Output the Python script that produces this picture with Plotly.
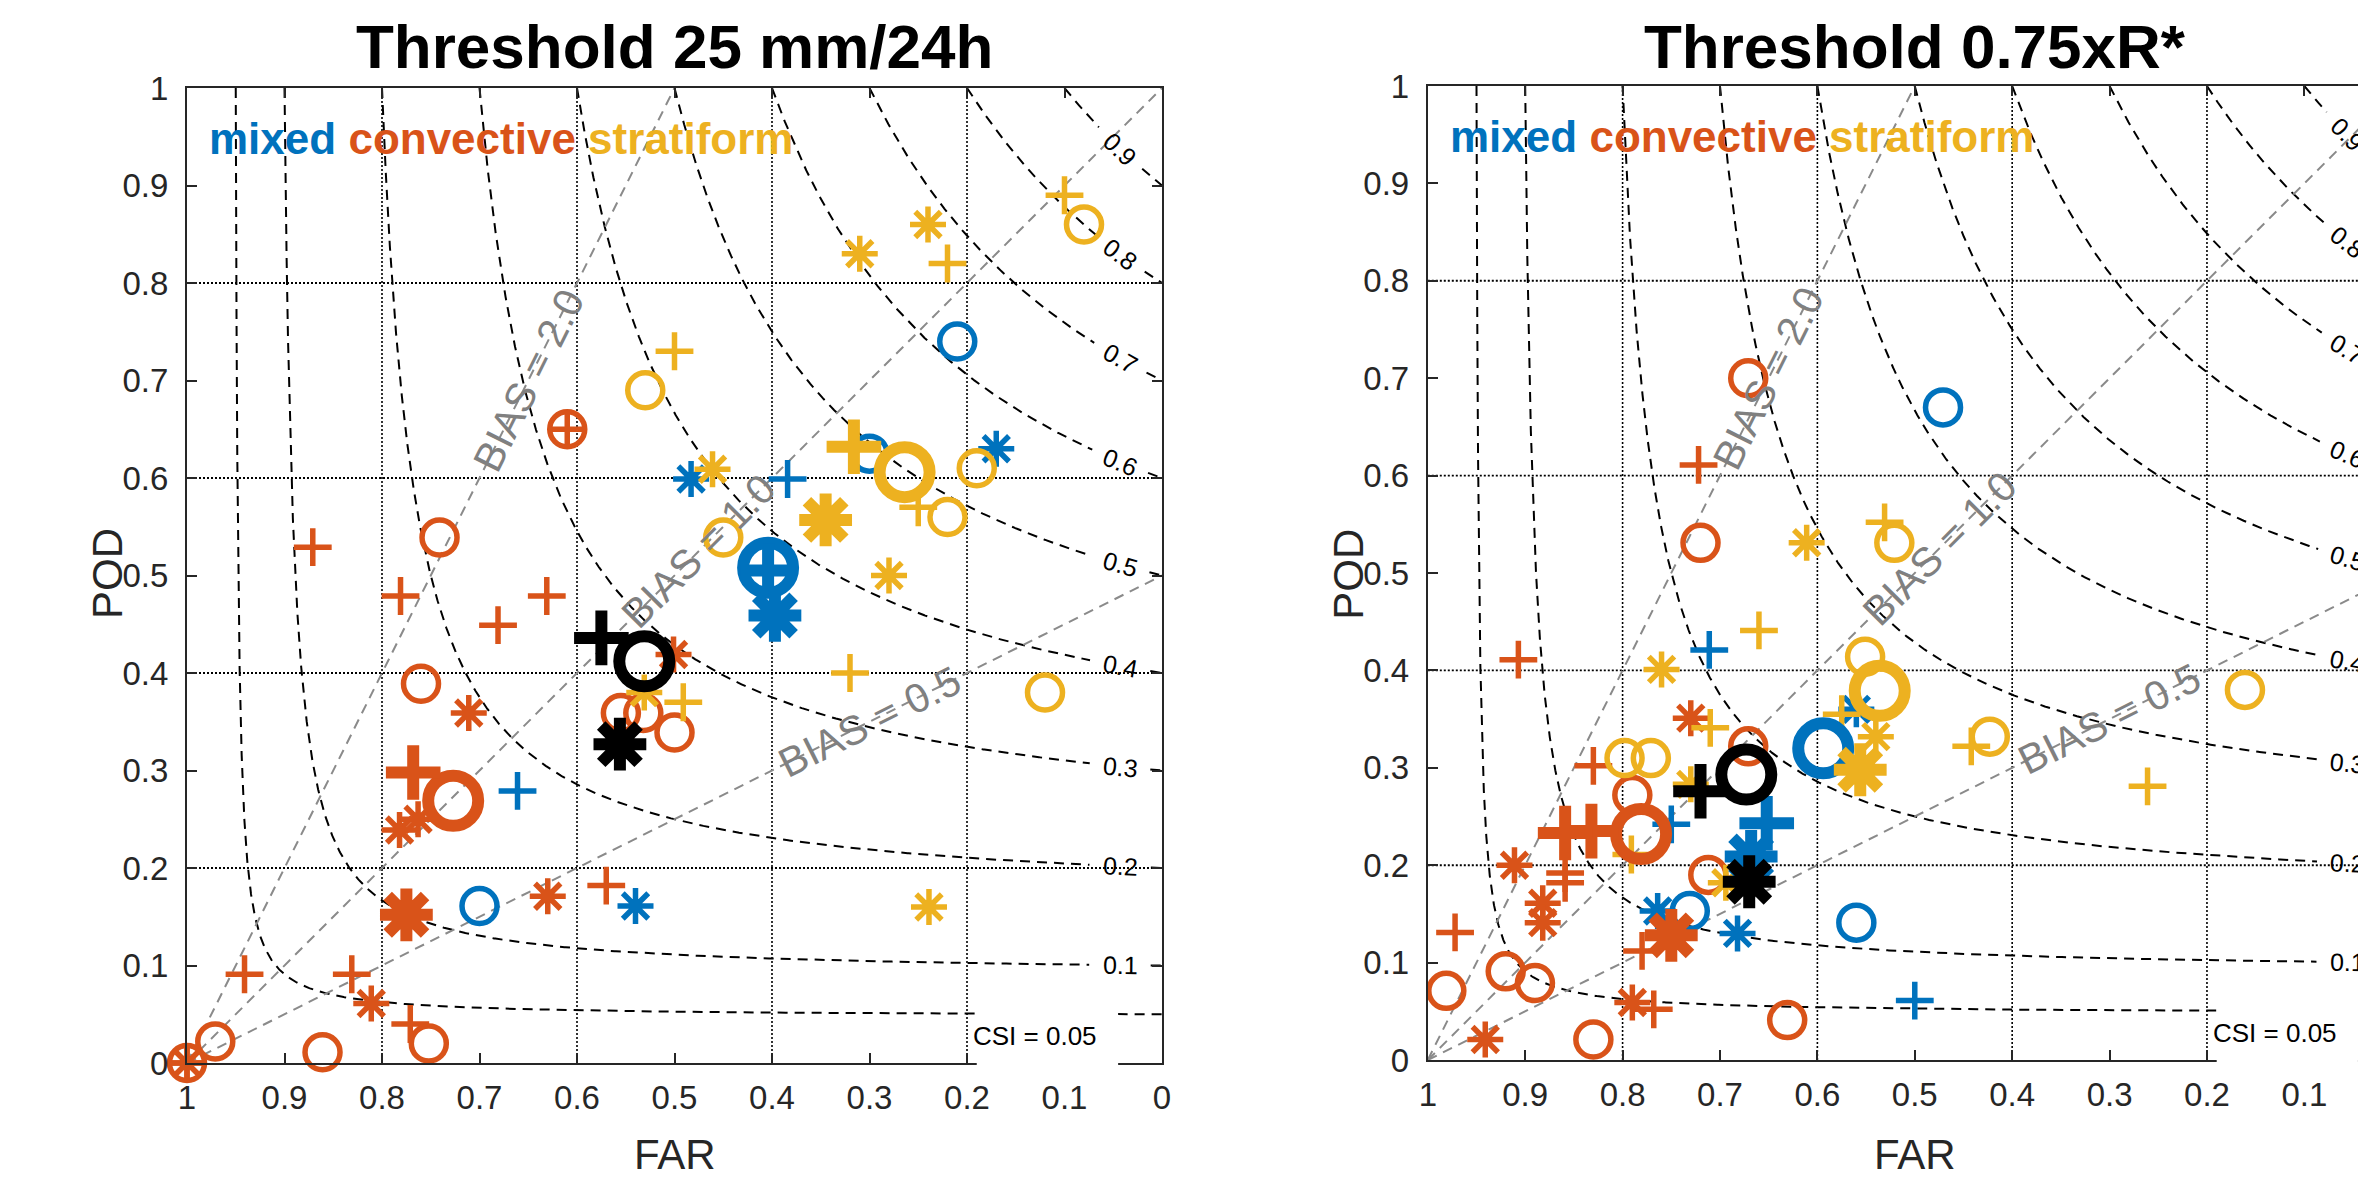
import numpy as np
import plotly.graph_objects as go

# ===================== DATA =====================
# Panel A : Threshold 25 mm/24h   (FAR, POD, marker type, big/average flag)
A_MIX_FAR = [0.21, 0.17, 0.483, 0.384, 0.30, 0.661, 0.70, 0.54, 0.404, 0.404, 0.397]
A_MIX_POD = [0.74, 0.63, 0.599, 0.599, 0.625, 0.279, 0.161, 0.161, 0.508, 0.505, 0.459]
A_MIX_SYM = ['o', '*', '*', '+', 'o', '+', 'o', '*', 'o', '+', '*']
A_MIX_BIG = [0, 0, 0, 0, 0, 0, 0, 0, 1, 1, 1]

A_CON_FAR = [0.61, 0.61, 0.871, 0.741, 0.781, 0.631, 0.681, 0.760, 0.711, 0.501,
             0.555, 0.532, 0.500, 0.782, 0.763, 0.630, 0.570, 0.941, 0.831, 0.811,
             0.771, 0.752, 0.861, 0.971, 1.0, 1.0, 1.0, 0.768, 0.727, 0.775]
A_CON_POD = [0.65, 0.65, 0.529, 0.539, 0.479, 0.479, 0.449, 0.389, 0.359, 0.419,
             0.359, 0.359, 0.339, 0.239, 0.250, 0.171, 0.182, 0.091, 0.091, 0.061,
             0.040, 0.020, 0.011, 0.022, 0.0, 0.0, 0.0, 0.298, 0.269, 0.152]
A_CON_SYM = ['o', '+', '+', 'o', '+', '+', '+', 'o', '*', '*',
             'o', 'o', 'o', '*', '*', '*', '+', '+', '+', '*',
             '+', 'o', 'o', 'o', 'o', '*', '+', '+', 'o', '*']
A_CON_BIG = [0] * 27 + [1, 1, 1]

A_STR_FAR = [0.10, 0.08, 0.24, 0.31, 0.22, 0.50, 0.53, 0.461, 0.19, 0.22, 0.25, 0.28,
             0.450, 0.531, 0.491, 0.32, 0.12, 0.239, 0.316, 0.264, 0.345]
A_STR_POD = [0.89, 0.86, 0.86, 0.83, 0.82, 0.73, 0.69, 0.609, 0.61, 0.56, 0.57, 0.50,
             0.539, 0.380, 0.370, 0.40, 0.38, 0.16, 0.632, 0.606, 0.557]
A_STR_SYM = ['+', 'o', '*', '*', '+', '+', 'o', '*', 'o', 'o', '+', '*',
             'o', '*', '+', '+', 'o', '*', '+', 'o', '*']
A_STR_BIG = [0] * 18 + [1, 1, 1]

A_ALL_FAR = [0.575, 0.531, 0.556]
A_ALL_POD = [0.436, 0.412, 0.327]
A_ALL_SYM = ['+', 'o', '*']
A_ALL_BIG = [1, 1, 1]

# Panel B : Threshold 0.75xR*
B_MIX_FAR = [0.471, 0.711, 0.560, 0.750, 0.764, 0.731, 0.682, 0.560, 0.500, 0.594, 0.652, 0.668]
B_MIX_POD = [0.670, 0.421, 0.360, 0.242, 0.153, 0.153, 0.130, 0.141, 0.061, 0.320, 0.243, 0.209]
B_MIX_SYM = ['o', '+', '*', '+', '*', 'o', '*', 'o', '+', 'o', '+', '*']
B_MIX_BIG = [0] * 9 + [1, 1, 1]

B_CON_FAR = [0.671, 0.722, 0.720, 0.907, 0.730, 0.830, 0.671, 0.790, 0.911, 0.859,
             0.859, 0.882, 0.882, 0.972, 0.712, 0.780, 0.981, 0.920, 0.890, 0.790,
             0.768, 0.941, 0.830, 0.631, 0.781, 0.832, 0.859, 0.750]
B_CON_POD = [0.700, 0.611, 0.531, 0.411, 0.351, 0.302, 0.322, 0.272, 0.200, 0.192,
             0.182, 0.161, 0.141, 0.131, 0.190, 0.112, 0.071, 0.091, 0.079, 0.059,
             0.052, 0.021, 0.021, 0.041, 0.232, 0.235, 0.233, 0.128]
B_CON_SYM = ['o', '+', 'o', '+', '*', '+', 'o', 'o', '*', '+',
             '+', '*', '*', '+', 'o', '+', 'o', 'o', 'o', '*',
             '+', '*', 'o', 'o', 'o', '+', '+', '*']
B_CON_BIG = [0] * 24 + [1, 1, 1, 1]

B_STR_FAR = [0.531, 0.521, 0.611, 0.660, 0.760, 0.710, 0.798, 0.771, 0.730, 0.791,
             0.694, 0.551, 0.575, 0.540, 0.442, 0.423, 0.261, 0.161, 0.536, 0.556]
B_STR_POD = [0.552, 0.531, 0.531, 0.441, 0.401, 0.341, 0.310, 0.310, 0.283, 0.211,
             0.182, 0.414, 0.355, 0.332, 0.322, 0.332, 0.281, 0.380, 0.379, 0.298]
B_STR_SYM = ['+', 'o', '*', '+', '*', '+', 'o', 'o', '*', '+',
             '*', 'o', '+', '*', '+', 'o', '+', 'o', 'o', '*']
B_STR_BIG = [0] * 18 + [1, 1]

B_ALL_FAR = [0.673, 0.720, 0.670]
B_ALL_POD = [0.293, 0.276, 0.183]
B_ALL_SYM = ['o', '+', '*']
B_ALL_BIG = [1, 1, 1]

TITLES = ['Threshold 25 mm/24h', 'Threshold 0.75xR*']
CSI_LEVELS = [0.05, 0.1, 0.2, 0.3, 0.4, 0.5, 0.6, 0.7, 0.8, 0.9]
BIAS_LEVELS = [0.5, 1.0, 2.0]
BIAS_TEXT_FAR = [0.30, 0.475, 0.65]
TICKS = [round(0.1 * i, 1) for i in range(11)]
TICK_TEXT = ['0' if t == 0 else ('1' if t == 1 else f'{t:.1f}') for t in TICKS]

# ===================== STYLE / LAYOUT =====================
W, H = 2366, 1181
FONT = 'Liberation Sans, Arial, Helvetica, sans-serif'
AXC = '#262626'
COL = {'mix': '#0072BD', 'con': '#D95319', 'str': '#EDB120', 'all': '#000000'}
SYMBOL = {'o': 'circle-open', '+': 'cross-thin-open', '*': 'asterisk-open'}
SIZE = {0: {'o': 35, '+': 27, '*': 30}, 1: {'o': 50, '+': 39, '*': 44}}
LW = {0: 5.5, 1: 12}

# pixel geometry of the two axes boxes
GEOM = [dict(x0=179.0, x1=1154.0, far_min=0.0, ytop=80.0, ybot=1055.0, label_far=0.043),
        dict(x0=1419.8, x1=float(W), far_min=0.0285, ytop=78.0, ybot=1052.0, label_far=0.056)]

panels = [
    dict(groups=[('mix', A_MIX_FAR, A_MIX_POD, A_MIX_SYM, A_MIX_BIG),
                 ('con', A_CON_FAR, A_CON_POD, A_CON_SYM, A_CON_BIG),
                 ('str', A_STR_FAR, A_STR_POD, A_STR_SYM, A_STR_BIG),
                 ('all', A_ALL_FAR, A_ALL_POD, A_ALL_SYM, A_ALL_BIG)]),
    dict(groups=[('mix', B_MIX_FAR, B_MIX_POD, B_MIX_SYM, B_MIX_BIG),
                 ('con', B_CON_FAR, B_CON_POD, B_CON_SYM, B_CON_BIG),
                 ('str', B_STR_FAR, B_STR_POD, B_STR_SYM, B_STR_BIG),
                 ('all', B_ALL_FAR, B_ALL_POD, B_ALL_SYM, B_ALL_BIG)]),
]

fig = go.Figure()
annotations = []
shapes = []

GAP_PX = 30


def csi_curve(c):
    sr1 = np.linspace(c, 1.0, 700)
    pod_s = np.linspace(c, 1.0, 700)
    sr2 = 1.0 / (1.0 / c + 1.0 - 1.0 / pod_s)
    sr = np.unique(np.clip(np.concatenate([sr1, sr2]), c, 1.0))
    pod = 1.0 / (1.0 / c + 1.0 - 1.0 / sr)
    return 1.0 - sr, pod


for k, (panel, g) in enumerate(zip(panels, GEOM)):
    xa = 'x' if k == 0 else 'x2'
    ya = 'y' if k == 0 else 'y2'
    xpx = (g['x1'] - g['x0']) / (1.0 - g['far_min'])   # px per FAR unit
    ypx = g['ybot'] - g['ytop']
    LABEL_FAR = g['label_far']

    def paper_x(far):
        return (g['x0'] + (1 - far) * xpx) / W

    def paper_y(pod):
        return 1 - (g['ybot'] - pod * ypx) / H

    # grid (dotted)
    for v in [0.2, 0.4, 0.6, 0.8]:
        shapes.append(dict(type='line', xref=xa, yref=ya + ' domain', x0=v, x1=v, y0=0, y1=1,
                           line=dict(color='black', width=1.6, dash='2px,2px'), layer='below'))
        shapes.append(dict(type='line', xref=xa + ' domain', yref=ya, x0=0, x1=1, y0=v, y1=v,
                           line=dict(color='black', width=1.9, dash='2px,2px'), layer='below'))

    # CSI curves
    for c in CSI_LEVELS:
        far, pod = csi_curve(c)
        if c != 0.05:
            sl = 1 - LABEL_FAR
            pl = 1.0 / (1.0 / c + 1.0 - 1.0 / sl)
            d = np.hypot((far - LABEL_FAR) * xpx, (pod - pl) * ypx)
            pod = np.where(d < GAP_PX, np.nan, pod)
            ang = np.degrees(np.arctan(ypx / xpx * pl ** 2 / sl ** 2))
            annotations.append(dict(x=LABEL_FAR, y=pl, xref=xa, yref=ya, text=f'{c:.1f}',
                                    showarrow=False, textangle=ang,
                                    font=dict(family=FONT, size=25, color='black')))
        fig.add_trace(go.Scatter(x=far, y=pod, mode='lines', xaxis=xa, yaxis=ya,
                                 line=dict(color='black', width=2, dash='10px,7px'),
                                 hoverinfo='skip', showlegend=False, connectgaps=False))

    # bias lines
    for b, tf in zip(BIAS_LEVELS, BIAS_TEXT_FAR):
        end = (1 - 1 / b, 1.0) if b >= 1 else (0.0, b)
        fig.add_trace(go.Scatter(x=[1.0, end[0]], y=[0.0, end[1]], mode='lines', xaxis=xa, yaxis=ya,
                                 line=dict(color='#8a8a8a', width=2, dash='10px,7px'),
                                 hoverinfo='skip', showlegend=False))
        ang = -np.degrees(np.arctan(b * ypx / xpx))
        annotations.append(dict(x=tf, y=b * (1 - tf), xref=xa, yref=ya, text=f'BIAS = {b:.1f}',
                                showarrow=False, textangle=ang,
                                font=dict(family=FONT, size=41, color='#808080')))

    # markers: small first, then averages (big), black last
    for big_pass in (0, 1):
        for key, far, pod, sym, big in panel['groups']:
            for s in ['o', '+', '*']:
                idx = [i for i in range(len(far)) if sym[i] == s and big[i] == big_pass]
                if not idx:
                    continue
                fig.add_trace(go.Scatter(
                    x=[far[i] for i in idx], y=[pod[i] for i in idx], mode='markers',
                    xaxis=xa, yaxis=ya, cliponaxis=False, hoverinfo='skip', showlegend=False,
                    marker=dict(symbol=SYMBOL[s], size=SIZE[big_pass][s], color=COL[key],
                                line=dict(color=COL[key], width=LW[big_pass]))))

    # CSI = 0.05 label box
    shapes.append(dict(type='rect', xref='paper', yref='paper',
                       x0=paper_x(0.19), x1=paper_x(0.045), y0=paper_y(-0.004), y1=paper_y(0.06),
                       fillcolor='white', line=dict(width=0), layer='above'))
    annotations.append(dict(x=0.196, y=0.028, xref=xa, yref=ya, text='CSI = 0.05', showarrow=False,
                            xanchor='left', yanchor='middle',
                            font=dict(family=FONT, size=26, color='black')))

    # colour legend text
    annotations.append(dict(x=paper_x(1 - 20 / xpx), y=paper_y(0.948), xref='paper', yref='paper',
                            xanchor='left', yanchor='middle', showarrow=False,
                            text='<b><span style="color:#0072BD">mixed</span> '
                                 '<span style="color:#D95319">convective</span> '
                                 '<span style="color:#EDB120">stratiform</span></b>',
                            font=dict(family=FONT, size=44)))

    cx = (g['x0'] + (g['x0'] + xpx)) / 2 / W
    # title
    annotations.append(dict(x=cx, y=1 - 2 / H, xref='paper', yref='paper', text=f'<b>{TITLES[k]}</b>',
                            showarrow=False, xanchor='center', yanchor='top',
                            font=dict(family=FONT, size=62, color='black')))
    # axis labels
    annotations.append(dict(x=cx, y=1 - 1146 / H, xref='paper', yref='paper', text='FAR',
                            showarrow=False, xanchor='center', yanchor='middle',
                            font=dict(family=FONT, size=42, color=AXC)))
    annotations.append(dict(x=(g['x0'] - 80) / W, y=1 - 566 / H, xref='paper', yref='paper', text='POD',
                            showarrow=False, textangle=-90, xanchor='center', yanchor='middle',
                            font=dict(family=FONT, size=42, color=AXC)))

axis_common = dict(tickvals=TICKS, ticktext=TICK_TEXT, ticks='inside', ticklen=10, tickwidth=2,
                   tickcolor=AXC, showline=True, linecolor=AXC, linewidth=2, showgrid=False,
                   zeroline=False, automargin=False, tickfont=dict(family=FONT, size=33, color=AXC))

g0, g1 = GEOM
fig.update_layout(
    width=W, height=H, margin=dict(l=0, r=0, t=0, b=0, autoexpand=False),
    paper_bgcolor='white', plot_bgcolor='white', showlegend=False,
    xaxis=dict(domain=[g0['x0'] / W, g0['x1'] / W], range=[1, 0], anchor='y', mirror='ticks',
               ticklabelstandoff=4, **axis_common),
    yaxis=dict(domain=[1 - g0['ybot'] / H, 1 - g0['ytop'] / H], range=[0, 1], anchor='x',
               mirror='ticks', ticklabelstandoff=10, **axis_common),
    xaxis2=dict(domain=[g1['x0'] / W, 1.0], range=[1, g1['far_min']], anchor='y2', mirror='ticks',
                ticklabelstandoff=4, **axis_common),
    yaxis2=dict(domain=[1 - g1['ybot'] / H, 1 - g1['ytop'] / H], range=[0, 1], anchor='x2',
                mirror=False, ticklabelstandoff=10, **axis_common),
    annotations=annotations, shapes=shapes,
)

fig.write_html('out.html')
